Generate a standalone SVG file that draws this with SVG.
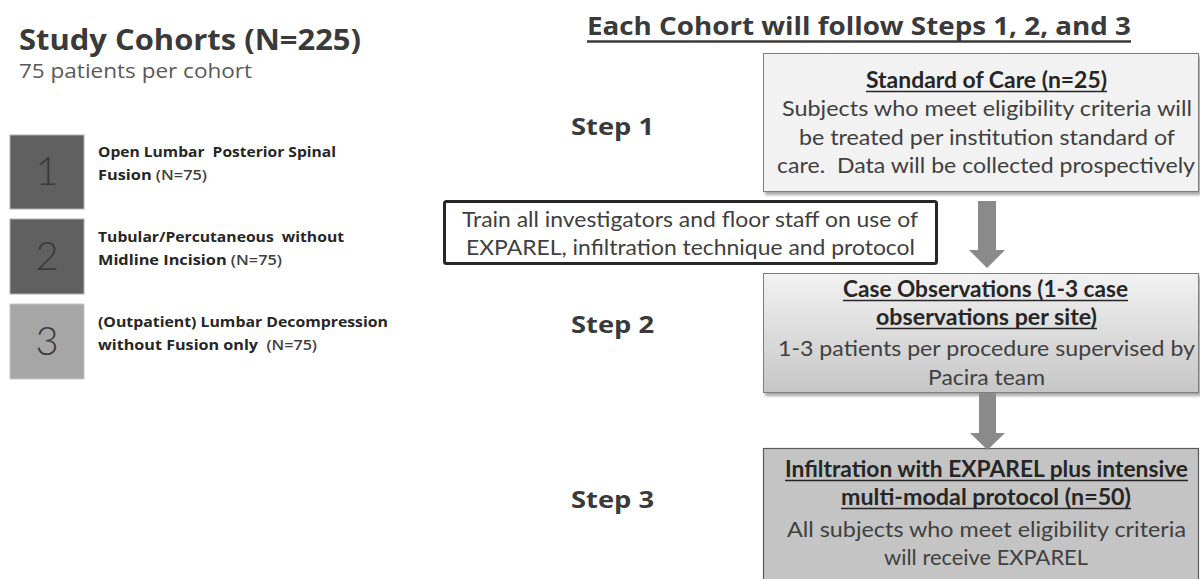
<svg xmlns="http://www.w3.org/2000/svg" width="1200" height="579" viewBox="0 0 1200 579">
<style>
.h{font-family:"Open Sans","Noto Sans",sans-serif;font-weight:700;fill:#3a3a3a}
.sub{font-family:"Open Sans","Noto Sans",sans-serif;font-size:20.5px;fill:#595959}
.lab{font-family:"Open Sans","Noto Sans",sans-serif;font-weight:700;font-size:14px;fill:#262626}
.n75{font-weight:600;fill:#404040}
.num{font-family:Lato,"Open Sans",sans-serif;font-weight:300;font-size:40px;fill:#3a3a3a;text-anchor:middle}
.b{font-family:Lato,"Noto Sans",sans-serif;font-size:22px;fill:#404040;text-anchor:middle}
.bb{font-family:Lato,"Noto Sans",sans-serif;font-size:22px;font-weight:700;fill:#262626;text-anchor:middle}
.ul{stroke:#262626;stroke-width:1.5}
.arrow{fill:#8a8a8a}
</style>
<defs>
<filter id="sh" x="-5%" y="-5%" width="115%" height="125%">
<feDropShadow dx="2" dy="3" stdDeviation="1.8" flood-color="#000" flood-opacity="0.35"/>
</filter>
<linearGradient id="g2" x1="0" y1="0" x2="0" y2="1">
<stop offset="0" stop-color="#f2f2f2"/>
<stop offset="1" stop-color="#c6c6c6"/>
</linearGradient>
</defs>
<rect width="1200" height="579" fill="#ffffff"/>

<g id="cohorts-title">
<text class="h" x="19" y="50" font-size="28.5" textLength="342" lengthAdjust="spacingAndGlyphs">Study Cohorts (N=225)</text>
<text class="sub" x="19" y="78" textLength="233" lengthAdjust="spacingAndGlyphs">75 patients per cohort</text>
</g>

<g id="cohort1">
<rect x="10" y="135" width="74" height="74" fill="#606060" stroke="#b0b0b0" stroke-width="1"/>
<text class="num" x="47" y="185">1</text>
<text class="lab" x="98" y="157" textLength="238" lengthAdjust="spacingAndGlyphs" xml:space="preserve">Open Lumbar  Posterior Spinal</text>
<text class="lab" x="98" y="180" textLength="109" lengthAdjust="spacingAndGlyphs">Fusion <tspan class="n75">(N=75)</tspan></text>
</g>
<g id="cohort2">
<rect x="10" y="219" width="74" height="75" fill="#606060" stroke="#b0b0b0" stroke-width="1"/>
<text class="num" x="47" y="270">2</text>
<text class="lab" x="98" y="242" textLength="246" lengthAdjust="spacingAndGlyphs" xml:space="preserve">Tubular/Percutaneous  without</text>
<text class="lab" x="98" y="265" textLength="184" lengthAdjust="spacingAndGlyphs">Midline Incision <tspan class="n75">(N=75)</tspan></text>
</g>
<g id="cohort3">
<rect x="10" y="304" width="74" height="75" fill="#a6a6a6" stroke="#c8c8c8" stroke-width="1"/>
<text class="num" x="47" y="355">3</text>
<text class="lab" x="98" y="327" textLength="290" lengthAdjust="spacingAndGlyphs">(Outpatient) Lumbar Decompression</text>
<text class="lab" x="98" y="350" textLength="219" lengthAdjust="spacingAndGlyphs" xml:space="preserve">without Fusion only  <tspan class="n75">(N=75)</tspan></text>
</g>

<g id="steps-title">
<text class="h" x="587" y="35" font-size="25.5" textLength="544" lengthAdjust="spacingAndGlyphs">Each Cohort will follow Steps 1, 2, and 3</text>
<line x1="587" y1="41.5" x2="1131" y2="41.5" stroke="#3a3a3a" stroke-width="2.5"/>
</g>

<g id="step-labels">
<text class="h" x="571" y="135" font-size="24" textLength="83" lengthAdjust="spacingAndGlyphs">Step 1</text>
<text class="h" x="571" y="333" font-size="24" textLength="83" lengthAdjust="spacingAndGlyphs">Step 2</text>
<text class="h" x="571" y="508" font-size="24" textLength="83" lengthAdjust="spacingAndGlyphs">Step 3</text>
</g>

<g id="standard-of-care">
<rect x="763.5" y="53.5" width="435" height="138" fill="#f2f2f2" stroke="#7f7f7f" stroke-width="1" filter="url(#sh)"/>
<text class="bb" x="986.5" y="88" textLength="241" lengthAdjust="spacingAndGlyphs">Standard of Care (n=25)</text>
<line class="ul" x1="866" y1="91.5" x2="1107" y2="91.5"/>
<text class="b" x="987" y="116" textLength="410" lengthAdjust="spacingAndGlyphs">Subjects who meet eligibility criteria will</text>
<text class="b" x="987" y="145" textLength="376" lengthAdjust="spacingAndGlyphs">be treated per institution standard of</text>
<text class="b" x="986" y="173" textLength="418" lengthAdjust="spacingAndGlyphs" xml:space="preserve">care.  Data will be collected prospectively</text>
</g>

<g id="training">
<rect x="444.5" y="201.5" width="492" height="62" rx="2" fill="#ffffff" stroke="#262626" stroke-width="3"/>
<text class="b" x="690" y="227" textLength="456" lengthAdjust="spacingAndGlyphs">Train all investigators and floor staff on use of</text>
<text class="b" x="690.5" y="255" textLength="449" lengthAdjust="spacingAndGlyphs">EXPAREL, infiltration technique and protocol</text>
</g>

<g id="case-observations">
<rect x="763.5" y="273.5" width="435" height="119" fill="url(#g2)" stroke="#7f7f7f" stroke-width="1" filter="url(#sh)"/>
<text class="bb" x="985.5" y="297" textLength="285" lengthAdjust="spacingAndGlyphs">Case Observations (1-3 case</text>
<line class="ul" x1="843" y1="300.5" x2="1128" y2="300.5"/>
<text class="bb" x="986.5" y="325" textLength="221" lengthAdjust="spacingAndGlyphs">observations per site)</text>
<line class="ul" x1="876" y1="328.5" x2="1097" y2="328.5"/>
<text class="b" x="986.5" y="356" textLength="417" lengthAdjust="spacingAndGlyphs">1-3 patients per procedure supervised by</text>
<text class="b" x="986.5" y="385" textLength="117" lengthAdjust="spacingAndGlyphs">Pacira team</text>
</g>

<g id="infiltration">
<rect x="763.5" y="448.5" width="435" height="140" fill="#c4c4c4" stroke="#5a5a5a" stroke-width="1.2"/>
<text class="bb" x="986.5" y="477" textLength="403" lengthAdjust="spacingAndGlyphs">Infiltration with EXPAREL plus intensive</text>
<line class="ul" x1="785" y1="480.5" x2="1188" y2="480.5"/>
<text class="bb" x="986" y="505" textLength="290" lengthAdjust="spacingAndGlyphs">multi-modal protocol (n=50)</text>
<line class="ul" x1="841" y1="508.5" x2="1131" y2="508.5"/>
<text class="b" x="986.5" y="537" textLength="399" lengthAdjust="spacingAndGlyphs">All subjects who meet eligibility criteria</text>
<text class="b" x="986" y="565" textLength="204" lengthAdjust="spacingAndGlyphs">will receive EXPAREL</text>
</g>

<g id="connectors">
<polygon class="arrow" points="978,201 996,201 996,250 1005,250 987,268 969,250 978,250"/>
<polygon class="arrow" points="979,393 996,393 996,433 1005,433 987.5,450 970,433 979,433"/>
</g>
</svg>
